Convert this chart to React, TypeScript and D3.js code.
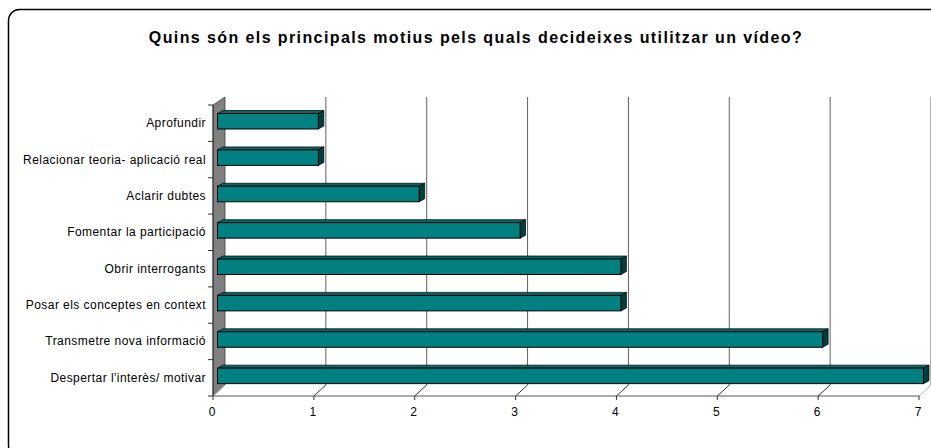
import React from "react";
import * as d3 from "d3";

const categories = [
  "Aprofundir",
  "Relacionar teoria- aplicació real",
  "Aclarir dubtes",
  "Fomentar la participació",
  "Obrir interrogants",
  "Posar els conceptes en context",
  "Transmetre nova informació",
  "Despertar l'interès/ motivar",
];
const values = [1, 1, 2, 3, 4, 4, 6, 7];
const ticks = [0, 1, 2, 3, 4, 5, 6, 7];
const title = "Quins són els principals motius pels quals decideixes utilitzar un vídeo?";

const W = 931;
const H = 448;
const X0 = 213;
const X1 = 919;
const YT = 105;
const YB = 396;
const DX = 12;
const DY = -11;
const BOX = 4.5;
const BOY = -2;
const BDX = 5.5;
const BDY = -3;
const BH = 15.5;

export default function App() {
  const x = d3.scaleLinear().domain([0, 7]).range([X0, X1]);
  const y = d3.scaleBand<string>().domain(categories).range([YT, YB]).paddingInner(0).paddingOuter(0);
  const bw = y.bandwidth();
  const font = "'Liberation Sans', Arial, sans-serif";
  const wallTop = YT - 8;

  return (
    <svg width={W} height={H} style={{ position: "absolute", left: 0, top: 0, display: "block", overflow: "hidden" }}>
      <rect x={0} y={0} width={W} height={H} fill="#fff" />
      <rect x={8.5} y={9.5} width={1000} height={447} rx={11} ry={11} fill="#fff" stroke="#000" strokeWidth={1.5} />
      <text x={476} y={43} textAnchor="middle" fontFamily={font} fontWeight="bold" fontSize={16} letterSpacing={1.4} fill="#000">
        {title}
      </text>

      {ticks.slice(1).map((t) => (
        <line key={"g" + t} x1={x(t) + DX} x2={x(t) + DX} y1={wallTop} y2={YB + DY} stroke="#606060" strokeWidth={1} />
      ))}

      <path
        d={`M${X0},${YT} L${X0 + DX},${wallTop} L${X0 + DX},${YB + DY} L${X0},${YB} Z`}
        fill="#808080"
        stroke="#404040"
        strokeWidth={0.8}
      />

      <line x1={X0} x2={X1} y1={YB} y2={YB} stroke="#555" strokeWidth={1} />
      {ticks.map((t) => (
        <g key={"t" + t}>
          <line x1={x(t)} x2={x(t) + DX} y1={YB} y2={YB + DY} stroke={t === 0 || t === 7 ? "#b0b0b0" : "#333"} strokeWidth={1} />
          <line x1={x(t)} x2={x(t)} y1={YB} y2={YB + 4} stroke="#333" strokeWidth={1} />
          <text x={x(t) - 1} y={416} textAnchor="middle" fontFamily={font} fontSize={12} fill="#000">
            {t}
          </text>
        </g>
      ))}

      <line x1={X0} x2={X0} y1={YT} y2={YB} stroke="#333" strokeWidth={1} />
      {categories.map((c, i) => (
        <line key={"lt" + i} x1={X0 - 5} x2={X0} y1={y(c) as number} y2={y(c) as number} stroke="#333" strokeWidth={1} />
      ))}
      <line x1={X0 - 5} x2={X0} y1={YB} y2={YB} stroke="#333" strokeWidth={1} />

      {categories.map((c, i) => {
        const v = values[i];
        const top = (y(c) as number) + 10.5;
        const bx0 = x(0) + BOX;
        const bx1 = x(v) + BOX;
        const ty = top + BOY;
        return (
          <g key={"b" + i}>
            <path
              d={`M${bx0},${ty} L${bx1},${ty} L${bx1 + BDX},${ty + BDY} L${bx0 + BDX},${ty + BDY} Z`}
              fill="#006a6a"
              stroke="#000"
              strokeWidth={0.7}
            />
            <path
              d={`M${bx1},${ty} L${bx1 + BDX},${ty + BDY} L${bx1 + BDX},${ty + BDY + BH} L${bx1},${ty + BH} Z`}
              fill="#003f3f"
              stroke="#000"
              strokeWidth={0.7}
            />
            <rect x={bx0} y={ty} width={bx1 - bx0} height={BH} fill="#008080" stroke="#000" strokeWidth={1} />
            <text
              x={206}
              y={(y(c) as number) + bw / 2 + 4}
              textAnchor="end"
              fontFamily={font}
              fontSize={12}
              letterSpacing={0.45}
              fill="#000"
            >
              {c}
            </text>
          </g>
        );
      })}
    </svg>
  );
}
